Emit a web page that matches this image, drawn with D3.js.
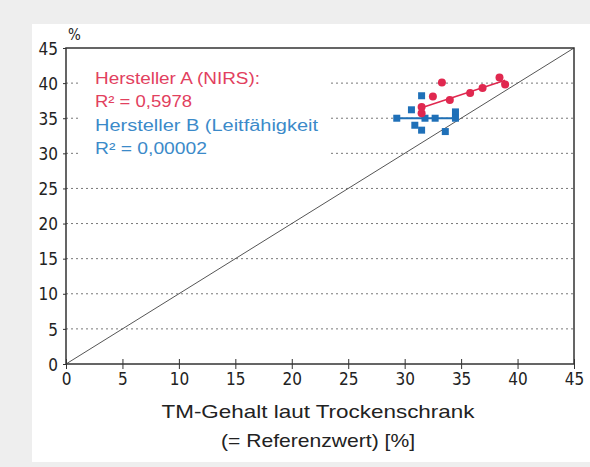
<!DOCTYPE html>
<html>
<head>
<meta charset="utf-8">
<script src="https://cdn.jsdelivr.net/npm/d3@7"></script>
<style>
    body { margin: 0; background: #eeeeee; }
    svg { display: block; }
    text { font-family: "Liberation Sans Narrow", "DejaVu Sans Condensed", "Liberation Sans", sans-serif; fill: #222; }
</style>
</head>
<body>
<svg id="chart"></svg>
<script>
// values
const tickValues = [0, 5, 10, 15, 20, 25, 30, 35, 40, 45];
const herstellerA_x = [31.5, 31.5, 32.5, 33.3, 34.0, 35.8, 36.9, 38.4, 38.9];
const herstellerA_y = [36.6, 35.7, 38.1, 40.1, 37.6, 38.6, 39.3, 40.8, 39.8];
const herstellerB_x = [29.3, 30.6, 31.5, 31.8, 32.7, 34.5, 30.9, 31.5, 33.6, 34.5];
const herstellerB_y = [35.0, 36.2, 38.2, 35.0, 35.0, 35.9, 34.0, 33.3, 33.1, 35.0];
// trend lines (start, end)
const trendA = [[31.5, 36.5], [38.9, 40.4]];
const trendB = [[29.2, 35.0], [34.6, 35.0]];
const legendLines = [
    { text: "Hersteller A (NIRS):", color: "#e2405e", len: 165 },
    { text: "R² = 0,5978", color: "#e2405e", len: 97 },
    { text: "Hersteller B (Leitfähigkeit", color: "#3b8ac9", len: 223 },
    { text: "R² = 0,00002", color: "#3b8ac9", len: 112 }
];
const xTitle = [
    { text: "TM-Gehalt laut Trockenschrank", len: 313 },
    { text: "(= Referenzwert) [%]", len: 194 }
];

let width = 590, height = 467;
let svg = d3.select("#chart").attr("width", width).attr("height", height);

// white card behind the chart
svg.append("rect")
    .attr("x", 32).attr("y", 24)
    .attr("width", width - 32).attr("height", 438)
    .attr("fill", "#fff");

let x = d3.scaleLinear().domain([0, 45]).range([66, 574]);
let y = d3.scaleLinear().domain([0, 45]).range([364, 48]);

// dotted horizontal grid
svg.append("g")
    .selectAll("line")
    .data(tickValues.filter(d => d > 0 && d < 45))
    .enter().append("line")
    .attr("x1", x(0)).attr("x2", x(45))
    .attr("y1", d => y(d)).attr("y2", d => y(d))
    .attr("stroke", "#777")
    .attr("stroke-width", 1)
    .attr("stroke-dasharray", "2,3");

// 1:1 line
svg.append("line")
    .attr("x1", x(0)).attr("y1", y(0))
    .attr("x2", x(45)).attr("y2", y(45))
    .attr("stroke", "#555")
    .attr("stroke-width", 1);

// axes
let xAxis = svg.append("g")
    .attr("transform", `translate(0,${y(0)})`)
    .call(d3.axisBottom(x).tickValues(tickValues).tickSize(5).tickPadding(4));
let yAxis = svg.append("g")
    .attr("transform", `translate(${x(0)},0)`)
    .call(d3.axisLeft(y).tickValues(tickValues).tickSize(3).tickPadding(5));

[xAxis, yAxis].forEach(a => {
    a.select(".domain").remove();
    a.selectAll("line").attr("stroke", "#333");
    a.selectAll("text").attr("font-size", 17).attr("fill", "#222")
        .style("font-family", '"Liberation Sans Narrow", "DejaVu Sans Condensed", sans-serif');
});
// x ticks cross the axis line
xAxis.selectAll(".tick line").attr("y1", -5).attr("y2", 5);
yAxis.selectAll(".tick text").attr("dy", "0.36em");

// plot frame
svg.append("rect")
    .attr("x", x(0)).attr("y", y(45))
    .attr("width", x(45) - x(0)).attr("height", y(0) - y(45))
    .attr("fill", "none")
    .attr("stroke", "#333")
    .attr("stroke-width", 1.5);

svg.append("text")
    .attr("x", x(0) + 2).attr("y", y(45) - 8)
    .attr("font-size", 15)
    .text("%");

// legend box hides the grid behind the text
svg.append("rect")
    .attr("x", 78).attr("y", 63)
    .attr("width", 250).attr("height", 95)
    .attr("fill", "#fff");

// trend lines
let line = d3.line().x(d => x(d[0])).y(d => y(d[1]));
svg.append("path")
    .attr("d", line(trendA))
    .attr("fill", "none")
    .attr("stroke", "#e0284f")
    .attr("stroke-width", 1.5);
svg.append("path")
    .attr("d", line(trendB))
    .attr("fill", "none")
    .attr("stroke", "#1f6fb5")
    .attr("stroke-width", 2);

// Hersteller B - blue squares
svg.append("g")
    .selectAll("rect")
    .data(herstellerB_x.map((d, i) => [d, herstellerB_y[i]]))
    .enter().append("rect")
    .attr("x", d => x(d[0]) - 3.5)
    .attr("y", d => y(d[1]) - 3.5)
    .attr("width", 7).attr("height", 7)
    .attr("fill", "#1f70b8");

// Hersteller A - red dots
svg.append("g")
    .selectAll("circle")
    .data(herstellerA_x.map((d, i) => [d, herstellerA_y[i]]))
    .enter().append("circle")
    .attr("cx", d => x(d[0]))
    .attr("cy", d => y(d[1]))
    .attr("r", 4)
    .attr("fill", "#e0284f");

// legend text in the upper left
svg.append("g")
    .selectAll("text")
    .data(legendLines)
    .enter().append("text")
    .attr("x", 95)
    .attr("y", (d, i) => 84 + i * 23.3)
    .attr("font-size", 16)
    .attr("textLength", d => d.len)
    .attr("lengthAdjust", "spacingAndGlyphs")
    .style("fill", d => d.color)
    .style("font-family", '"Liberation Sans Narrow", "Liberation Sans", sans-serif')
    .text(d => d.text);

// x axis title
svg.append("g")
    .selectAll("text")
    .data(xTitle)
    .enter().append("text")
    .attr("x", 318)
    .attr("y", (d, i) => 418 + i * 29)
    .attr("text-anchor", "middle")
    .attr("font-size", 19)
    .attr("textLength", d => d.len)
    .attr("lengthAdjust", "spacingAndGlyphs")
    .style("font-family", '"Liberation Sans Narrow", "Liberation Sans", sans-serif')
    .text(d => d.text);
</script>
</body>
</html>
